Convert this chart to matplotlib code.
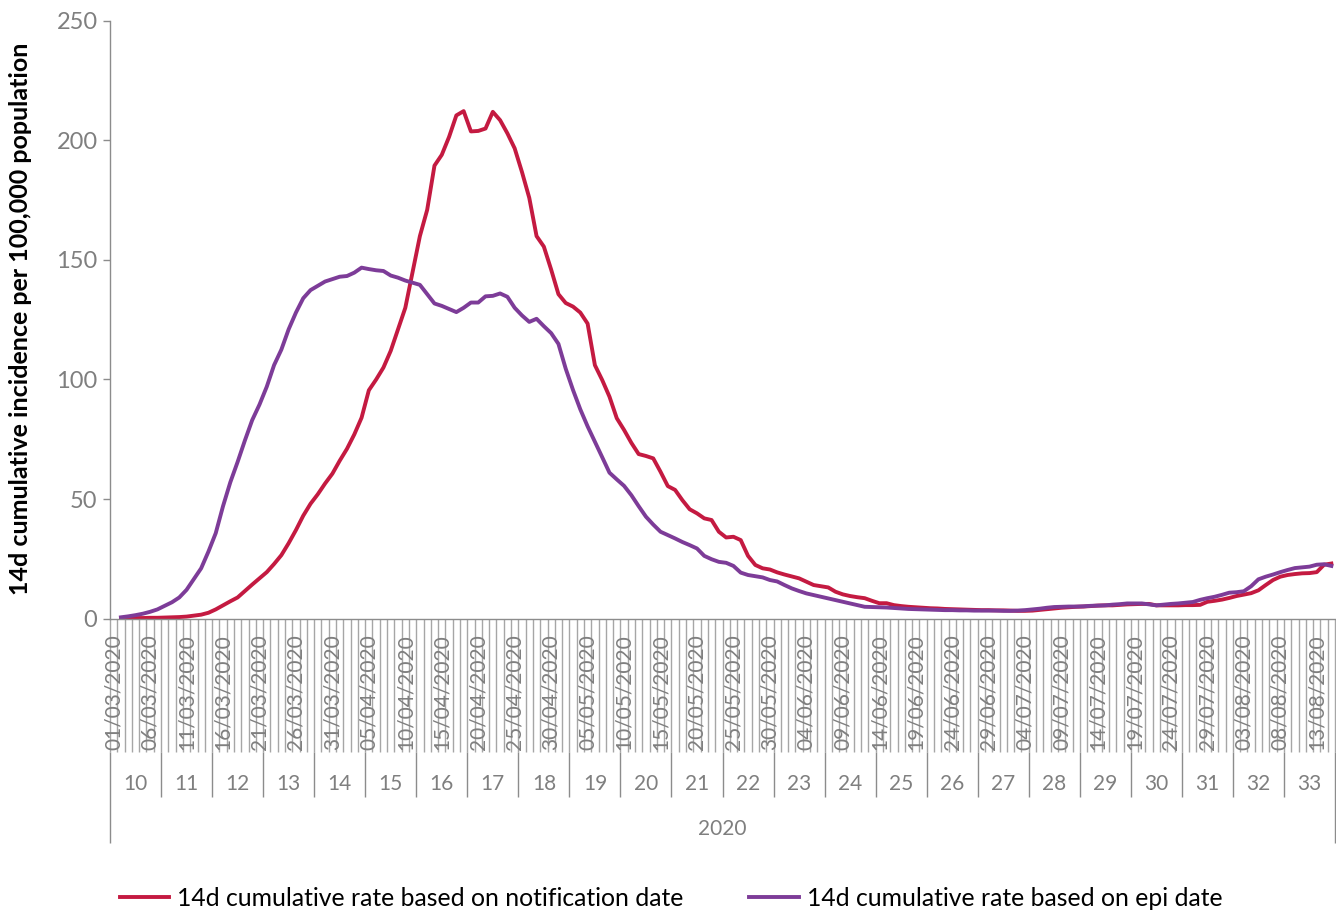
import numpy as np
import pandas as pd
import matplotlib
matplotlib.use("Agg")
import matplotlib.pyplot as plt
from matplotlib.lines import Line2D

plt.rcParams['font.family'] = ['Lato', 'DejaVu Sans']

nan = np.nan
dates = pd.date_range('2020-03-01', '2020-08-15', freq='D')
year_label = '2020'

# 14d cumulative rate based on notification date (first day has no value)
notif_rate = [
    nan, 0.1, 0.1, 0.2, 0.2, 0.3, 0.3, 0.4, 0.5, 0.6,
    0.8, 1.2, 1.6, 2.4, 3.8, 5.5, 7.2, 8.8, 11.5, 14.2,
    16.8, 19.4, 22.8, 26.5, 31.5, 37, 43, 48, 52, 56.5,
    60.6, 66, 71, 77, 84, 95.5, 100, 105, 112, 121,
    130, 145, 160, 171, 189.5, 194, 201.5, 210.5, 212.3, 203.8,
    204, 205, 212, 208.5, 203, 196.7, 186.8, 176, 160, 155.6,
    146, 135.7, 132, 130.5, 128, 123.4, 106, 99.8, 92.8, 83.8,
    78.9, 73.5, 68.8, 68, 67, 61.4, 55.4, 53.8, 49.5, 45.7,
    44.0, 41.9, 41.2, 36.3, 33.9, 34.2, 32.8, 26.2, 22.4, 21.0,
    20.5, 19.3, 18.4, 17.6, 16.8, 15.4, 14.0, 13.5, 13.0, 11.2,
    10.1, 9.4, 8.9, 8.5, 7.4, 6.4, 6.4, 5.6, 5.2, 4.9,
    4.7, 4.5, 4.3, 4.2, 4.0, 3.9, 3.8, 3.7, 3.6, 3.5,
    3.5, 3.4, 3.4, 3.3, 3.2, 3.2, 3.3, 3.6, 3.9, 4.2,
    4.5, 4.7, 4.9, 5.0, 5.2, 5.4, 5.5, 5.5, 5.7, 5.9,
    6.0, 6.1, 6.1, 5.5, 5.5, 5.5, 5.5, 5.6, 5.6, 5.7,
    7.0, 7.4, 7.9, 8.6, 9.4, 10.0, 10.6, 11.8, 14.0, 16.1,
    17.5, 18.2, 18.6, 18.9, 19.0, 19.4, 22.5, 23.0,
]

# 14d cumulative rate based on epi date
epi_rate = [
    nan, 0.5, 0.9, 1.4, 2.0, 2.8, 3.8, 5.3, 6.8, 8.8,
    12, 16.5, 21, 28, 35.7, 47, 57, 65.5, 74.5, 83,
    89.5, 97, 106, 112.5, 121, 128, 134, 137.4, 139.2, 141,
    142, 143, 143.3, 144.7, 146.8, 146.2, 145.7, 145.4, 143.5, 142.6,
    141.4, 140.5, 139.6, 135.7, 131.8, 130.8, 129.5, 128.2, 130, 132.2,
    132.2, 134.8, 135, 136, 134.6, 130, 126.8, 124.1, 125.4, 122.3,
    119.4, 114.9, 104.5, 95.6, 87.5, 80.4, 74, 67.5, 61, 58.2,
    55.5, 51.6, 47, 42.6, 39.3, 36.3, 34.9, 33.5, 32, 30.7,
    29.3, 26.2, 24.8, 23.7, 23.3, 22.0, 19.2, 18.2, 17.7, 17.2,
    16.1, 15.5, 14, 12.6, 11.5, 10.5, 9.8, 9.1, 8.4, 7.7,
    7.0, 6.3, 5.6, 4.9, 4.8, 4.7, 4.6, 4.4, 4.2, 4.0,
    3.9, 3.8, 3.7, 3.6, 3.5, 3.5, 3.4, 3.4, 3.3, 3.3,
    3.3, 3.3, 3.2, 3.2, 3.3, 3.5, 3.8, 4.1, 4.5, 4.8,
    4.9, 5.0, 5.0, 5.1, 5.3, 5.4, 5.5, 5.8, 6.0, 6.3,
    6.3, 6.3, 5.9, 5.5, 5.8, 6.1, 6.3, 6.6, 6.9, 7.8,
    8.5, 9.1, 9.9, 10.8, 11.0, 11.4, 13.5, 16.4, 17.5, 18.4,
    19.4, 20.3, 21.1, 21.4, 21.7, 22.5, 22.7, 22.0,
]

week_numbers = list(range(10, 34))
date_labels = [d.strftime('%d/%m/%Y') for d in dates]

red = '#C41A41'
purple = '#7D3C98'
axis_grey = '#8C8C8C'
text_grey = '#7F7F7F'

W, H = 1336, 911
fig = plt.figure(figsize=(W / 100, H / 100), dpi=100)
y0_px, y250_px = 618.5, 21
ax = fig.add_axes([110 / W, 1 - y0_px / H, 1225 / W, (y0_px - y250_px) / H])

x = np.arange(len(dates))
ax.plot(x, notif_rate, color=red, lw=2.8, solid_joinstyle='round',
        label='14d cumulative rate based on notification date')
ax.plot(x, epi_rate, color=purple, lw=2.8, solid_joinstyle='round',
        label='14d cumulative rate based on epi date')

ax.set_xlim(-0.5, len(dates) - 0.5)
ax.set_ylim(0, 250)
ax.set_yticks(range(0, 251, 50))
ax.tick_params(axis='y', direction='out', length=5, width=1, color=axis_grey,
               labelcolor=text_grey, labelsize=17, pad=4)
ax.set_xticks([])
for s in ['top', 'right']:
    ax.spines[s].set_visible(False)
for s in ['left', 'bottom']:
    ax.spines[s].set_color(axis_grey)
    ax.spines[s].set_linewidth(1)

# multi-level category axis (dates / week / year)
def ay(py):
    return (y0_px - py) / (y0_px - y250_px)

trans = ax.get_xaxis_transform()
ax.vlines(np.arange(-0.5, len(dates)), ay(y0_px), ay(752), transform=trans,
          clip_on=False, color='#A6A6A6', lw=1)
for i in range(0, len(dates), 5):
    ax.text(i, ay(634), date_labels[i], rotation=90, ha='center', va='top',
            transform=trans, fontsize=15, color=text_grey)

week_edges = np.arange(-0.5, len(dates) + 0.5, 7)
for k, e in enumerate(week_edges):
    bottom = ay(843) if k in (0, len(week_edges) - 1) else ay(797)
    ax.vlines(e, ay(752), bottom, transform=trans, clip_on=False,
              color=axis_grey, lw=1)
for k, wk in enumerate(week_numbers):
    ax.text(week_edges[k] + 3.5, ay(784), str(wk), ha='center', va='center',
            transform=trans, fontsize=15, color=text_grey)
ax.text((len(dates) - 1) / 2, ay(829), year_label, ha='center', va='center',
        transform=trans, fontsize=15, color=text_grey)

fig.text(21 / W, 1 - 318.5 / H, '14d cumulative incidence per 100,000 population',
         rotation=90, ha='center', va='center', fontsize=18, fontweight='bold',
         color='black')

handles = [Line2D([], [], color=red, lw=2.8), Line2D([], [], color=purple, lw=2.8)]
fig.legend(handles, [l.get_label() for l in ax.get_lines()], loc='center',
           bbox_to_anchor=(0.5022, 1 - 898 / H), ncol=2, frameon=False,
           fontsize=17.8, handlelength=2.0, handletextpad=0.32, columnspacing=2.67)

fig.savefig('out.png', dpi=100)
